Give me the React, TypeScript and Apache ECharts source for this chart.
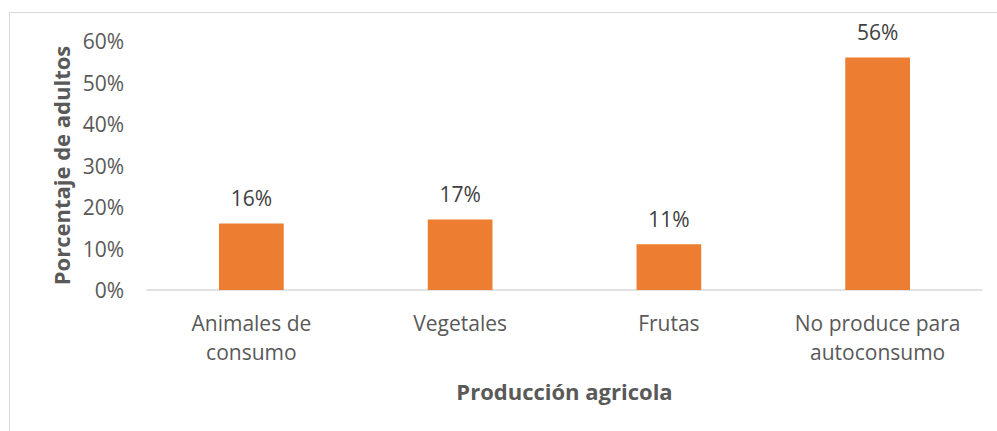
import React, { useEffect, useRef } from "react";
import * as echarts from "echarts";

const categories = ["Animales de\nconsumo", "Vegetales", "Frutas", "No produce para\nautoconsumo"];
const values = [16, 17, 11, 56];
const yTicks = [0, 10, 20, 30, 40, 50, 60];
const xTitle = "Producción agricola";
const yTitle = "Porcentaje de adultos";

export default function App() {
  const ref = useRef<HTMLDivElement>(null);
  useEffect(() => {
    if (!ref.current) return;
    const chart = echarts.init(ref.current, null, { renderer: "svg" });
    const font = "'Open Sans', sans-serif";
    chart.setOption({
      animation: false,
      backgroundColor: "#ffffff",
      graphic: [
        {
          type: "rect",
          shape: { x: 9.5, y: 12.5, width: 1100, height: 600 },
          style: { fill: "none", stroke: "#d9d9d9", lineWidth: 1 },
          silent: true,
        },
      ],
      grid: { left: 147, right: 15, top: 41, bottom: 141 },
      xAxis: {
        type: "category",
        data: categories,
        axisLine: { show: true, lineStyle: { color: "#d9d9d9", width: 1.5 } },
        axisTick: { show: false },
        axisLabel: {
          color: "#595959",
          fontFamily: font,
          fontSize: 21,
          lineHeight: 29,
          margin: 18,
          interval: 0,
        },
        name: xTitle,
        nameLocation: "middle",
        nameGap: 90,
        nameTextStyle: { color: "#595959", fontFamily: font, fontSize: 22, fontWeight: "bold" },
      },
      yAxis: {
        type: "value",
        min: yTicks[0],
        max: yTicks[yTicks.length - 1],
        interval: 10,
        splitLine: { show: false },
        axisLine: { show: false },
        axisTick: { show: false },
        axisLabel: {
          color: "#595959",
          fontFamily: font,
          fontSize: 21,
          margin: 23,
          formatter: (v: number) => v + "%",
        },
        name: yTitle,
        nameLocation: "middle",
        nameGap: 74,
        nameTextStyle: { color: "#595959", fontFamily: font, fontSize: 22, fontWeight: "bold" },
      },
      series: [
        {
          type: "bar",
          data: values,
          barWidth: "31%",
          itemStyle: { color: "#ED7D31" },
          label: {
            show: true,
            position: "top",
            distance: 15,
            color: "#404040",
            fontFamily: font,
            fontSize: 21,
            formatter: (p: any) => p.value + "%",
          },
        },
      ],
    });
    return () => chart.dispose();
  }, []);
  return <div ref={ref} style={{ width: 997, height: 431, position: "absolute", left: 0, top: 0 }} />;
}
